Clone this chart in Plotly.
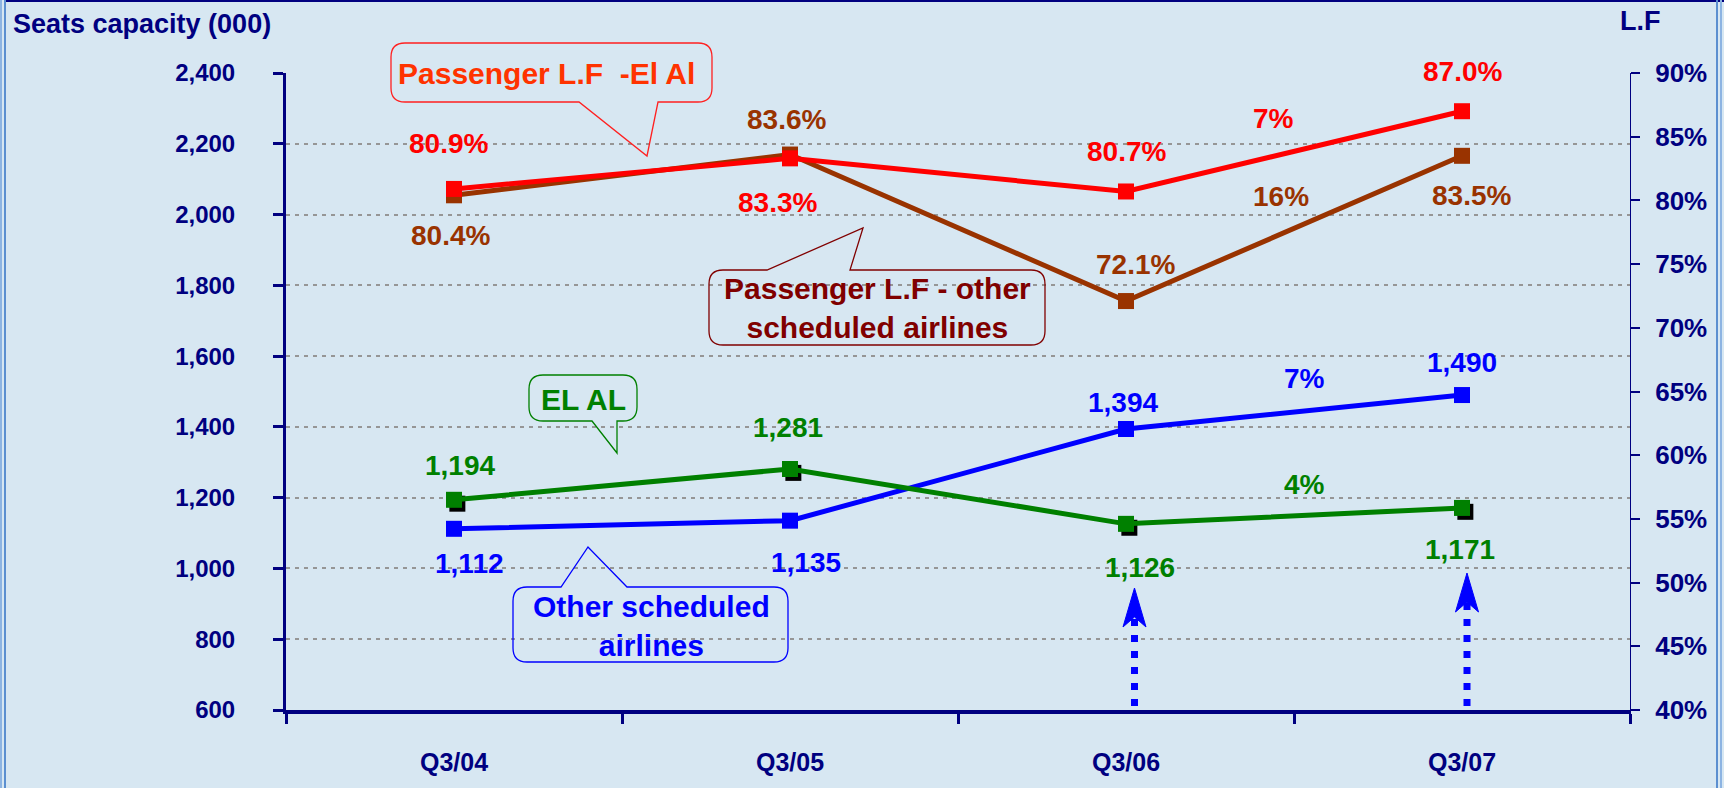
import plotly.graph_objects as go

# data
quarters = ["Q3/04", "Q3/05", "Q3/06", "Q3/07"]
seats_elal = [1194, 1281, 1126, 1171]
seats_other = [1112, 1135, 1394, 1490]
lf_elal = [80.9, 83.3, 80.7, 87.0]
lf_other = [80.4, 83.6, 72.1, 83.5]
growth_lf_elal = "7%"
growth_lf_other = "16%"
growth_seats_other = "7%"
growth_seats_elal = "4%"

NAVY = "#000080"
RED = "#FF0000"
BROWN = "#993300"
GREEN = "#008000"
BLUE = "#0000FF"
BG = "#D7E7F2"
FONT = "Liberation Sans, Arial, sans-serif"

W, H = 1724, 788
L, R, T, B = 286, 1630, 73, 710  # plot area in pixels


def px2paper(xp, yp):
    return (xp - L) / (R - L), (B - yp) / (B - T)


def path_from_pixels(cmds):
    out = []
    for c in cmds:
        if c[0] in "ML":
            x, y = px2paper(c[1], c[2])
            out.append(f"{c[0]}{x:.5f},{y:.5f}")
        elif c[0] == "Q":
            x1, y1 = px2paper(c[1], c[2])
            x2, y2 = px2paper(c[3], c[4])
            out.append(f"Q{x1:.5f},{y1:.5f} {x2:.5f},{y2:.5f}")
        else:
            out.append(c[0])
    return " ".join(out)


def bubble(x0, y0, x1, y1, tip, b0, b1, side, color, r=14):
    c = [("M", x0 + r, y0)]
    if side == "top":
        c += [("L", b0, y0), ("L", tip[0], tip[1]), ("L", b1, y0)]
    c += [("L", x1 - r, y0), ("Q", x1, y0, x1, y0 + r), ("L", x1, y1 - r), ("Q", x1, y1, x1 - r, y1)]
    if side == "bottom":
        c += [("L", b1, y1), ("L", tip[0], tip[1]), ("L", b0, y1)]
    c += [("L", x0 + r, y1), ("Q", x0, y1, x0, y1 - r), ("L", x0, y0 + r), ("Q", x0, y0, x0 + r, y0), ("Z",)]
    return dict(type="path", xref="paper", yref="paper", path=path_from_pixels(c),
                line=dict(color=color, width=1.3), fillcolor="rgba(0,0,0,0)", layer="above")


xs = list(range(len(quarters)))
fig = go.Figure()

fig.add_trace(go.Scatter(x=xs, y=seats_other, mode="lines+markers", yaxis="y",
                         line=dict(color=BLUE, width=5),
                         marker=dict(symbol="square", size=16, color=BLUE)))
fig.add_trace(go.Scatter(x=[i + 0.01 for i in xs], y=[v - 11 for v in seats_elal], mode="markers",
                         yaxis="y", marker=dict(symbol="square", size=16, color="black")))
fig.add_trace(go.Scatter(x=xs, y=seats_elal, mode="lines+markers", yaxis="y",
                         line=dict(color=GREEN, width=5),
                         marker=dict(symbol="square", size=16, color=GREEN)))
fig.add_trace(go.Scatter(x=xs, y=lf_other, mode="lines+markers", yaxis="y2",
                         line=dict(color=BROWN, width=5),
                         marker=dict(symbol="square", size=16, color=BROWN)))
fig.add_trace(go.Scatter(x=xs, y=lf_elal, mode="lines+markers", yaxis="y2",
                         line=dict(color=RED, width=5),
                         marker=dict(symbol="square", size=16, color=RED)))

ann = []


def label(x, y, text, color, yref, yshift, xshift=0, size=28):
    ann.append(dict(x=x, y=y, xref="x", yref=yref, text=text, showarrow=False,
                    xshift=xshift, yshift=yshift,
                    font=dict(family=FONT, size=size, color=color, weight="bold")))


# value labels (pixel offsets from each point)
red_off = [(-6, 45), (-13, -44), (0, 40), (0, 40)]
brown_off = [(-4, -40), (-4, 35), (9, 37), (9, -40)]
green_off = [(6, 34), (-2, 42), (14, -44), (-2, -42)]
blue_off = [(15, -35), (16, -42), (-3, 27), (0, 33)]
for i in xs:
    label(i, lf_elal[i], f"{lf_elal[i]:.1f}%", RED, "y2", red_off[i][1], red_off[i][0])
    label(i, lf_other[i], f"{lf_other[i]:.1f}%", BROWN, "y2", brown_off[i][1], brown_off[i][0])
    label(i, seats_elal[i], f"{seats_elal[i]:,}", GREEN, "y", green_off[i][1], green_off[i][0])
    label(i, seats_other[i], f"{seats_other[i]:,}", BLUE, "y", blue_off[i][1], blue_off[i][0])

# growth labels between Q3/06 and Q3/07
label(2.44, 86.45, growth_lf_elal, RED, "y2", 0)
label(2.46, 80.3, growth_lf_other, BROWN, "y2", 0)
label(2.53, 1538, growth_seats_other, BLUE, "y", 0)
label(2.53, 1238, growth_seats_elal, GREEN, "y", 0)


def paper_text(xp, yp, text, color, size, xanchor="center"):
    x, y = px2paper(xp, yp)
    ann.append(dict(x=x, y=y, xref="paper", yref="paper", text=text, showarrow=False,
                    xanchor=xanchor, yanchor="middle", align="center",
                    font=dict(family=FONT, size=size, color=color, weight="bold")))


paper_text(11, 24, "Seats capacity (000)", NAVY, 27, xanchor="left")
paper_text(1640, 21, "L.F", NAVY, 27)
paper_text(546, 73, "Passenger L.F&nbsp; -El Al", "#FF3300", 30)
paper_text(877, 308, "Passenger L.F - other<br>scheduled airlines", "#800000", 30)
paper_text(583, 399, "EL AL", GREEN, 30)
paper_text(651, 626, "Other scheduled<br>airlines", BLUE, 30)

shapes = [
    bubble(391, 43, 712, 102, (647, 156), 579, 658, "bottom", "#FF2020"),
    bubble(709, 270, 1045, 345, (863, 228), 767, 850, "top", "#800000"),
    bubble(529, 375, 637, 421, (617, 453), 592, 617, "bottom", GREEN),
    bubble(513, 587, 788, 662, (588, 547), 561, 627, "top", BLUE),
]

# dotted arrows under Q3/06 and Q3/07
for cx, top_dot, tip in [(1134.5, 621, 588), (1467, 606, 573)]:
    x0, y0 = px2paper(cx, B - 4)
    _, y1 = px2paper(cx, top_dot - 4)
    shapes.append(dict(type="line", xref="paper", yref="paper", x0=x0, y0=y0, x1=x0, y1=y1,
                       line=dict(color=BLUE, width=7, dash="7px,9px"), layer="above"))
    head = [("M", cx, tip), ("L", cx + 11.5, tip + 39), ("L", cx, tip + 29),
            ("L", cx - 11.5, tip + 39), ("Z",)]
    shapes.append(dict(type="path", xref="paper", yref="paper", path=path_from_pixels(head),
                       line=dict(color=BLUE, width=1), fillcolor=BLUE, layer="above"))

# frame borders
shapes.append(dict(type="line", xref="paper", yref="paper",
                   x0=px2paper(6, 0)[0], x1=px2paper(W, 0)[0], y0=px2paper(0, 1)[1], y1=px2paper(0, 1)[1],
                   line=dict(color=NAVY, width=2)))
for xp, col in [(1, "#8DB4E2"), (5, "#5B8FD0"), (1717, "#5B8FD0"), (1721, "#8DB4E2")]:
    xx = px2paper(xp, 0)[0]
    shapes.append(dict(type="line", xref="paper", yref="paper", x0=xx, x1=xx,
                       y0=px2paper(0, H)[1], y1=px2paper(0, 0)[1],
                       line=dict(color=col, width=2)))

leftfont = dict(family=FONT, size=24, color=NAVY, weight="bold")
xfont = dict(family=FONT, size=25, color=NAVY, weight="bold")
rightfont = dict(family=FONT, size=26, color=NAVY, weight="bold")

fig.update_layout(
    width=W, height=H,
    margin=dict(l=L, r=W - R, t=T, b=H - B),
    paper_bgcolor=BG, plot_bgcolor=BG,
    showlegend=False,
    font=dict(family=FONT, color=NAVY),
    xaxis=dict(range=[-0.5, 3.5], tickvals=xs, ticktext=quarters, ticks="", automargin=False,
               showline=True, linewidth=4, linecolor=NAVY, showgrid=False, zeroline=False,
               tickfont=xfont, ticklabelstandoff=27,
               minor=dict(ticks="outside", tick0=-0.5, dtick=1, ticklen=10, tickwidth=3,
                          tickcolor=NAVY, showgrid=False)),
    yaxis=dict(range=[600, 2400], dtick=200, tickformat=",", showline=True, linewidth=3,
               linecolor=NAVY, ticks="outside", ticklen=10, tickwidth=3, tickcolor=NAVY,
               showgrid=True, gridcolor="#969696", gridwidth=2, griddash="4px,5px",
               zeroline=False, ticklabelstandoff=33, tickfont=leftfont, automargin=False),
    yaxis2=dict(range=[40, 90], dtick=5, ticksuffix="%", overlaying="y", side="right",
                showline=True, linewidth=1, linecolor=NAVY, ticks="outside", ticklen=9,
                tickwidth=1.5, tickcolor=NAVY, showgrid=False, zeroline=False,
                ticklabelstandoff=10, tickfont=rightfont, automargin=False),
    yaxis3=dict(range=[40, 90], dtick=5, overlaying="y", side="right", anchor="x",
                showline=False, ticks="inside", ticklen=9, tickwidth=1.5, tickcolor=NAVY,
                showticklabels=False, showgrid=False, zeroline=False, automargin=False),
    annotations=ann,
    shapes=shapes,
)

fig.write_html("out.html", config={"displayModeBar": False},
               post_script="document.body.style.margin='0';"
                           f"document.body.style.background='{BG}';")
